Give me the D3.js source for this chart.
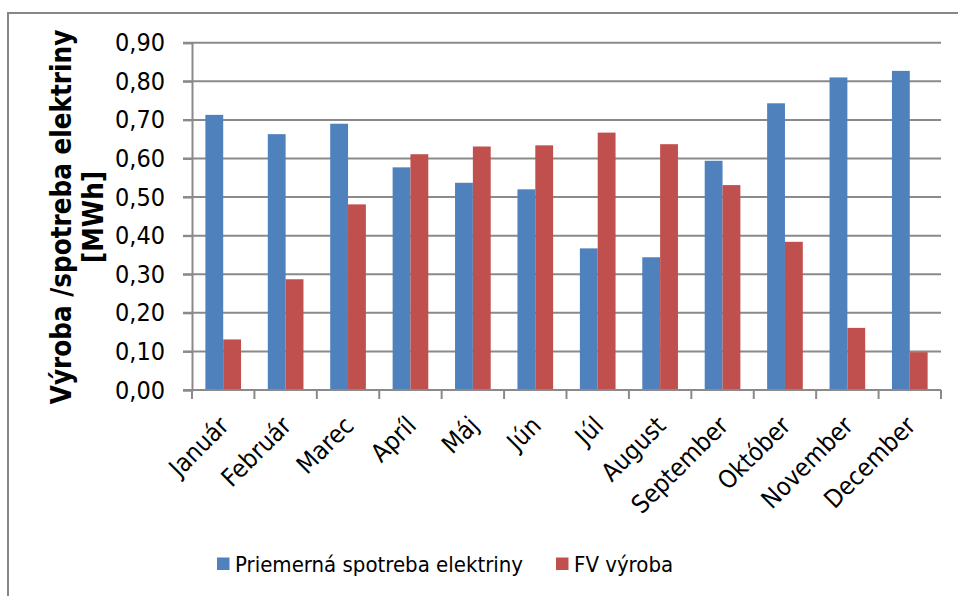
<!DOCTYPE html>
<html><head><meta charset="utf-8">
<script src="https://cdn.jsdelivr.net/npm/d3@7"></script>
<style>
body{margin:0;background:#fff;}
text{font-family:"DejaVu Sans Condensed","DejaVu Sans",sans-serif;fill:#000;}
</style>
</head><body>
<svg id="c" width="958" height="596"></svg>
<script>
const months = ["Január","Február","Marec","Apríl","Máj","Jún","Júl","August","September","Október","November","December"];
const consumption = [0.713,0.663,0.690,0.577,0.537,0.520,0.367,0.344,0.594,0.743,0.810,0.827];
const pvProduction = [0.131,0.287,0.481,0.611,0.631,0.634,0.667,0.637,0.531,0.384,0.161,0.098];
const seriesNames = ["Priemerná spotreba elektriny","FV výroba"];
const seriesColors = ["#4F81BD","#C0504D"];
const yTicks = [0,0.1,0.2,0.3,0.4,0.5,0.6,0.7,0.8,0.9];
const yTitle = ["Výroba /spotreba elektriny","[MWh]"];

const svg = d3.select("#c");
const L = 192, R = 941, T = 42.7, B = 390;
const gridColor = "#8a8a8a";

// outer border
svg.append("rect").attr("x",8).attr("y",13).attr("width",1000).attr("height",1000)
  .attr("fill","none").attr("stroke","#878787").attr("stroke-width",2);

const x = d3.scaleBand().domain(months).range([L,R]).paddingInner(0).paddingOuter(0);
const xs = d3.scaleBand().domain([0,1]).range([0,x.bandwidth()]).paddingInner(0).paddingOuter(0.75);
const y = d3.scaleLinear().domain([0,0.9]).range([B,T]);

// gridlines
svg.append("g").selectAll("line").data(yTicks.filter(d=>d>0)).join("line")
  .attr("x1",L-9).attr("x2",R).attr("y1",d=>y(d)).attr("y2",d=>y(d))
  .attr("stroke",gridColor).attr("stroke-width",2);

// bars
const data = months.map((m,i)=>({m, v:[consumption[i], pvProduction[i]]}));
const g = svg.append("g");
data.forEach(d=>{
  d.v.forEach((v,k)=>{
    g.append("rect").attr("x",x(d.m)+xs(k)).attr("width",xs.bandwidth())
      .attr("y",y(v)).attr("height",B-y(v)).attr("fill",seriesColors[k]);
  });
});

// y axis
const yAxis = svg.append("g").attr("transform",`translate(${L},0)`)
  .call(d3.axisLeft(y).tickValues(yTicks).tickSize(9).tickPadding(18)
    .tickFormat(d=>d3.format(".2f")(d).replace(".",",")));
yAxis.selectAll("path").attr("stroke",gridColor).attr("stroke-width",2);
yAxis.selectAll("line").attr("stroke",gridColor).attr("stroke-width",2);
yAxis.selectAll("text").attr("font-size",25).style("font-family",'"DejaVu Sans Condensed","DejaVu Sans",sans-serif');

// x axis
const xAxis = svg.append("g").attr("transform",`translate(0,${B})`)
  .call(d3.axisBottom(x).tickSize(0).tickFormat(""));
xAxis.select("path").attr("stroke",gridColor).attr("stroke-width",2).attr("d",`M${L-9},0H${R}`);
svg.append("g").selectAll("line").data(months.map(m=>x(m)).concat([R])).join("line")
  .attr("x1",d=>d).attr("x2",d=>d).attr("y1",B).attr("y2",B+9)
  .attr("stroke",gridColor).attr("stroke-width",2);
svg.append("g").selectAll("text").data(months).join("text")
  .attr("text-anchor","end").attr("font-size",25)
  .attr("transform",d=>`translate(${x(d)+x.bandwidth()/2+1},${B+31}) rotate(-45)`)
  .attr("dy","0.35em")
  .text(d=>d);

// y title
const yt = svg.append("text").attr("transform","translate(71,217) rotate(-90)")
  .attr("text-anchor","middle").attr("font-weight","bold").attr("font-size",27.5);
yt.selectAll("tspan").data(yTitle).join("tspan").attr("x",0).attr("dy",(d,i)=>i?"1.17em":0).text(d=>d);

// legend
const legX = [217, 556];
seriesNames.forEach((n,i)=>{
  svg.append("rect").attr("x",legX[i]).attr("y",557.5).attr("width",12.5).attr("height",12.5).attr("fill",seriesColors[i]);
  svg.append("text").attr("x",legX[i]+18).attr("y",572).attr("font-size",22).text(n);
});
</script>
</body></html>
